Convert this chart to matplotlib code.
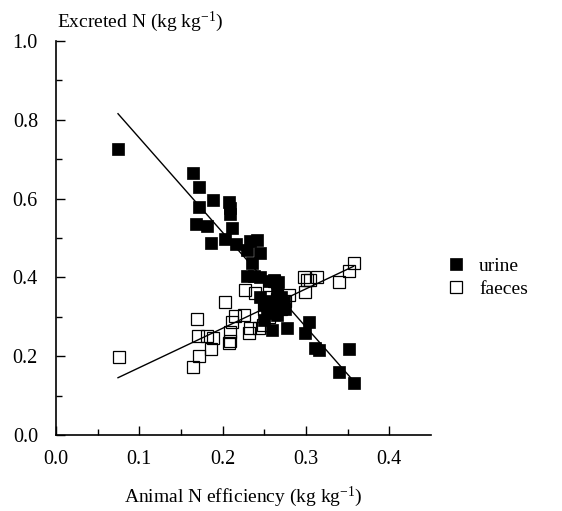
import numpy as np
import matplotlib
matplotlib.use("Agg")
import matplotlib.pyplot as plt

plt.rcParams["font.family"] = ["Liberation Serif", "DejaVu Serif"]
plt.rcParams["mathtext.fontset"] = "custom"
plt.rcParams["mathtext.rm"] = "Liberation Serif"
plt.rcParams["mathtext.it"] = "Liberation Serif:italic"

# animal N efficiency vs fraction of N excreted in urine
urine_x = [0.074, 0.164, 0.172, 0.171, 0.168, 0.181, 0.188, 0.186, 0.207, 0.209,
           0.209, 0.211, 0.203, 0.216, 0.233, 0.241, 0.229, 0.245, 0.235, 0.229,
           0.237, 0.245, 0.261, 0.266, 0.255, 0.245, 0.265, 0.273, 0.258, 0.250,
           0.253, 0.265, 0.275, 0.259, 0.277, 0.249, 0.262, 0.270, 0.303, 0.299,
           0.311, 0.315, 0.351, 0.339, 0.357]
urine_y = [0.726, 0.666, 0.629, 0.578, 0.536, 0.530, 0.596, 0.488, 0.592, 0.575,
           0.560, 0.525, 0.497, 0.484, 0.492, 0.495, 0.470, 0.463, 0.436, 0.404,
           0.404, 0.400, 0.393, 0.389, 0.390, 0.351, 0.360, 0.338, 0.340, 0.330,
           0.309, 0.305, 0.320, 0.266, 0.271, 0.292, 0.330, 0.350, 0.288, 0.258,
           0.220, 0.215, 0.218, 0.161, 0.131]

# same animals, fraction excreted in faeces
faeces_x = [0.075, 0.164, 0.172, 0.169, 0.170, 0.181, 0.188, 0.186, 0.203, 0.208,
            0.209, 0.209, 0.211, 0.215, 0.225, 0.227, 0.239, 0.233, 0.232, 0.243,
            0.248, 0.255, 0.260, 0.265, 0.270, 0.279, 0.275, 0.297, 0.301, 0.313,
            0.305, 0.299, 0.339, 0.351, 0.357, 0.255, 0.262, 0.250]
faeces_y = [0.199, 0.172, 0.200, 0.294, 0.251, 0.251, 0.247, 0.218, 0.338, 0.233,
            0.238, 0.262, 0.288, 0.302, 0.305, 0.368, 0.360, 0.271, 0.258, 0.271,
            0.280, 0.300, 0.330, 0.345, 0.320, 0.355, 0.340, 0.402, 0.393, 0.402,
            0.393, 0.364, 0.389, 0.415, 0.436, 0.380, 0.390, 0.320]

# fitted lines: intercept, slope
urine_fit = (0.994, -2.40)
faeces_fit = (0.071, 1.0)
fit_range = [0.0744, 0.357]

fig = plt.figure(figsize=(5.62, 5.11), dpi=100)
ax = fig.add_axes([56 / 562, 76 / 511, 375 / 562, 394 / 511])

xs = np.array(fit_range)
ax.plot(xs, urine_fit[0] + urine_fit[1] * xs, color="black", lw=1.0)
ax.plot(xs, faeces_fit[0] + faeces_fit[1] * xs, color="black", lw=1.0)

ax.plot(faeces_x, faeces_y, "s", ms=8.6, mfc="none", mec="black", mew=0.9,
        ls="none", label="faeces")
ax.plot(urine_x, urine_y, "s", ms=8.6, mfc="black", mec="black", mew=0.5,
        ls="none", label="urine")

ax.set_xlim(0, 0.45)
ax.set_ylim(0, 1.0)
ax.set_xticks([0.0, 0.1, 0.2, 0.3, 0.4])
ax.set_xticks([0.05, 0.15, 0.25, 0.35], minor=True)
ax.set_yticks([0.0, 0.2, 0.4, 0.6, 0.8, 1.0])
ax.set_yticks([0.1, 0.3, 0.5, 0.7, 0.9], minor=True)
ax.xaxis.set_major_formatter(matplotlib.ticker.FormatStrFormatter("%.1f"))
ax.yaxis.set_major_formatter(matplotlib.ticker.FormatStrFormatter("%.1f"))

for s in ["top", "right"]:
    ax.spines[s].set_visible(False)
for s in ["left", "bottom"]:
    ax.spines[s].set_linewidth(1.2)

ax.tick_params(which="major", direction="in", length=6.5, width=1.0,
               labelsize=14.5, pad=11)
ax.tick_params(which="minor", direction="in", length=4.3, width=1.0)
ax.tick_params(axis="y", which="major", pad=13)

fig.text(57 / 562, 1 - 27 / 511, r"Excreted N (kg kg$^{-1}$)", fontsize=14,
         ha="left", va="baseline")
fig.text(243 / 562, 1 - 485 / 511, r"Animal N efficiency (kg kg$^{-1}$)",
         fontsize=14, ha="center", va="top")

handles, labels = ax.get_legend_handles_labels()
fig.legend(handles[::-1], labels[::-1], loc="upper left",
           bbox_to_anchor=(446 / 562, 1 - 257 / 511), frameon=False,
           fontsize=14, handlelength=1.0, handletextpad=0.7,
           borderpad=0, borderaxespad=0, labelspacing=0.3)

fig.savefig("out.png", dpi=100)
